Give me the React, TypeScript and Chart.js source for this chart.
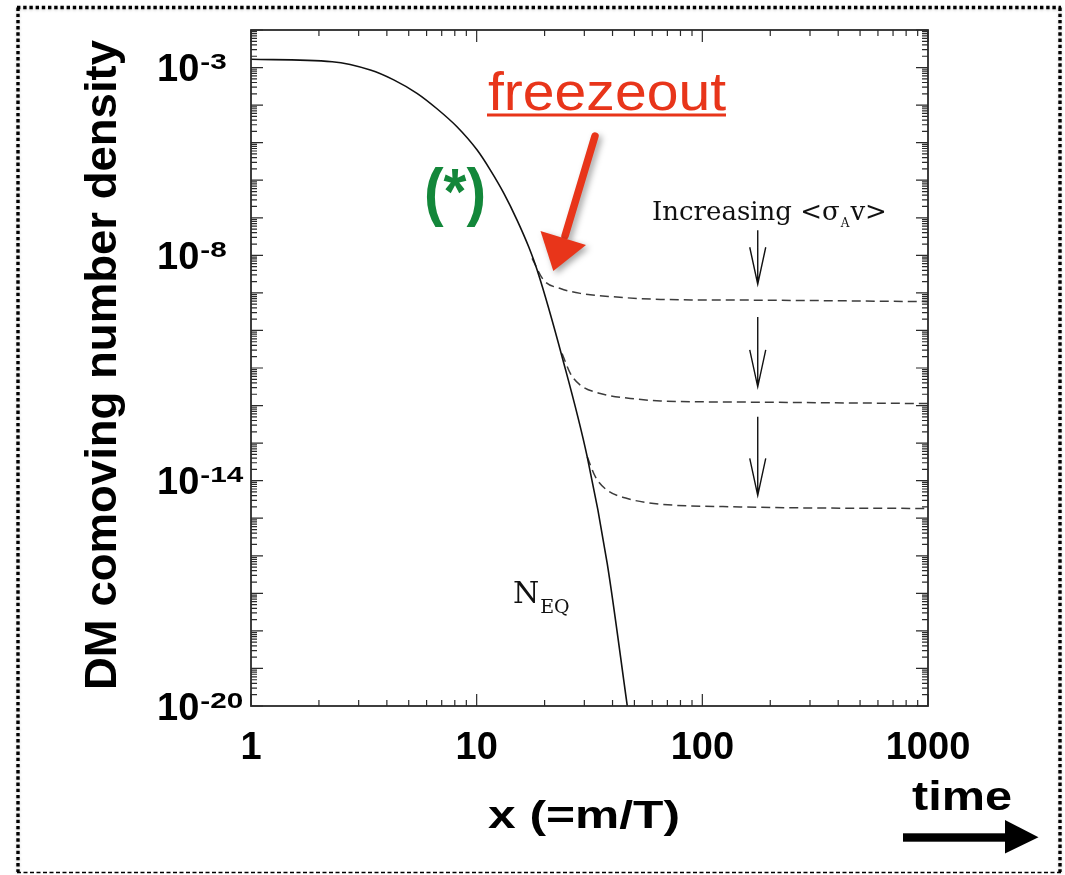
import React, { useEffect, useRef } from 'react';
import { Chart, registerables } from 'chart.js';

Chart.register(...registerables);

// ---------- data ----------
const xTickValues = [1, 10, 100, 1000];
const yLabelExponents = [-3, -8, -14, -20];

// equilibrium abundance N_EQ (solid)
const eqX = [1, 2.29, 3.38, 4.29, 5.44, 6.67, 8.18, 10.05, 11.5, 13.2, 15.1, 17.0, 18.55, 23.9, 30.9, 37.9, 46.5];
const eqY = [1.66e-3, 1.43e-3, 8.6e-4, 4.7e-4, 2.06e-4, 8.0e-5, 2.65e-5, 6.35e-6, 1.86e-6, 4.47e-7, 8.7e-8, 1.69e-8, 4.0e-9, 2.0e-11, 4.3e-14, 6.2e-17, 1e-20];

// relic abundance curves (dashed), increasing <sigma v>
const relic1X = [17.6, 19.8, 23.5, 28.8, 40.5, 65.3, 176, 1000];
const relic1Y = [8.3e-9, 2.19e-9, 1.31e-9, 9.7e-10, 7.85e-10, 6.7e-10, 6.4e-10, 5.85e-10];
const relic2X = [23.9, 26.0, 28.8, 35.3, 48.0, 65.3, 176, 1000];
const relic2Y = [2.44e-11, 7.2e-12, 3.5e-12, 2.1e-12, 1.55e-12, 1.33e-12, 1.23e-12, 1.13e-12];
const relic3X = [30.9, 33.6, 37.8, 46.5, 60.9, 147, 1000];
const relic3Y = [4.3e-14, 1.26e-14, 5.6e-15, 3.35e-15, 2.47e-15, 2.0e-15, 1.81e-15];

// annotation arrows "Increasing <sigma_A v>": x value, [start exponent, tip exponent]
const sigmaArrowX = 176;
const sigmaArrows = [
  [-7.33, -8.77],
  [-9.64, -11.5],
  [-12.3, -14.39],
];

const SANS = '"Liberation Sans", Arial, Helvetica, sans-serif';
const SERIF = '"DejaVu Serif", "Liberation Serif", serif';

const toPts = (xs: number[], ys: number[]) => xs.map((x, i) => ({ x, y: ys[i] }));

function drawStretched(ctx: CanvasRenderingContext2D, text: string, x: number, y: number, font: string, width: number, color: string) {
  ctx.save();
  ctx.font = font;
  ctx.fillStyle = color;
  ctx.textAlign = 'left';
  ctx.textBaseline = 'alphabetic';
  const w = ctx.measureText(text).width;
  ctx.translate(x, y);
  ctx.scale(width / w, 1);
  ctx.fillText(text, 0, 0);
  ctx.restore();
}

const framePlugin = {
  id: 'frameTicks',
  afterDatasetsDraw(chart: any) {
    const { ctx, chartArea: a, scales } = chart;
    const xs = scales.x;
    const ys = scales.y;
    ctx.save();
    ctx.strokeStyle = '#2a2a2a';
    ctx.lineWidth = 1.2;
    ctx.beginPath();
    for (let e = 0; e <= 3; e++) {
      for (let m = 1; m <= 9; m++) {
        const v = m * Math.pow(10, e);
        if (v > 1000 * 1.0001) break;
        const px = xs.getPixelForValue(v);
        const len = m === 1 ? 12 : 6;
        ctx.moveTo(px, a.bottom);
        ctx.lineTo(px, a.bottom - len);
        ctx.moveTo(px, a.top);
        ctx.lineTo(px, a.top + len);
      }
    }
    for (let e = -20; e <= -2; e++) {
      for (let m = 1; m <= 9; m++) {
        const v = m * Math.pow(10, e);
        if (v > 1e-2 * 1.0001) break;
        const py = ys.getPixelForValue(v);
        const len = m === 1 ? 12 : 6;
        ctx.moveTo(a.left, py);
        ctx.lineTo(a.left + len, py);
        ctx.moveTo(a.right, py);
        ctx.lineTo(a.right - len, py);
      }
    }
    ctx.stroke();
    ctx.lineWidth = 1.8;
    ctx.strokeRect(a.left, a.top, a.right - a.left, a.bottom - a.top);
    ctx.restore();
  },
};

const annotationPlugin = {
  id: 'annotations',
  afterDraw(chart: any) {
    const { ctx, scales } = chart;
    const xs = scales.x;
    const ys = scales.y;
    ctx.save();

    // slide frame (dotted)
    ctx.strokeStyle = '#000';
    ctx.save();
    ctx.shadowColor = 'rgba(0,0,0,0.2)';
    ctx.shadowBlur = 3;
    ctx.shadowOffsetY = 1;
    ctx.lineWidth = 3.4;
    ctx.setLineDash([3.4, 2.8]);
    ctx.beginPath();
    ctx.moveTo(17, 7.5);
    ctx.lineTo(1061, 7.5);
    ctx.moveTo(18, 7.5);
    ctx.lineTo(18, 872);
    ctx.moveTo(1060, 7.5);
    ctx.lineTo(1060, 872);
    ctx.stroke();
    ctx.restore();
    ctx.save();
    ctx.lineWidth = 1.5;
    ctx.setLineDash([4, 2.5]);
    ctx.beginPath();
    ctx.moveTo(17, 872.5);
    ctx.lineTo(1061, 872.5);
    ctx.stroke();
    ctx.restore();

    // y tick labels 10^n
    for (const e of yLabelExponents) {
      const py = ys.getPixelForValue(Math.pow(10, e));
      ctx.fillStyle = '#000';
      ctx.textAlign = 'left';
      ctx.textBaseline = 'alphabetic';
      ctx.font = `bold 38px ${SANS}`;
      const base = '10';
      ctx.fillText(base, 157, py + 13.6);
      const w = ctx.measureText(base).width;
      ctx.save();
      ctx.font = `bold 22px ${SANS}`;
      ctx.translate(157 + w + 1, py + 1.8);
      ctx.scale(1.35, 1);
      ctx.fillText(String(e), 0, 0);
      ctx.restore();
    }

    // y axis title (rotated)
    ctx.save();
    ctx.font = `bold 44px ${SANS}`;
    const yTitle = 'DM comoving number density';
    const yw = ctx.measureText(yTitle).width;
    ctx.translate(116, 365);
    ctx.rotate(-Math.PI / 2);
    ctx.scale(650 / yw, 1);
    ctx.textAlign = 'center';
    ctx.fillStyle = '#000';
    ctx.fillText(yTitle, 0, 0);
    ctx.restore();

    // x axis title
    drawStretched(ctx, 'x (=m/T)', 488, 828, `bold 38px ${SANS}`, 192, '#000');

    // "time" with arrow
    drawStretched(ctx, 'time', 912, 810, `bold 40px ${SANS}`, 100, '#000');
    ctx.fillStyle = '#000';
    ctx.fillRect(903, 833.3, 104, 8.4);
    ctx.beginPath();
    ctx.moveTo(1005, 820);
    ctx.lineTo(1038.5, 837.2);
    ctx.lineTo(1005, 853.5);
    ctx.closePath();
    ctx.fill();

    // freezeout (red, underlined)
    const red = '#e8351a';
    drawStretched(ctx, 'freezeout', 488, 110, `53px ${SANS}`, 238, red);
    ctx.fillStyle = red;
    ctx.fillRect(487, 113.5, 239, 3);

    // red arrow with shadow
    ctx.save();
    ctx.shadowColor = 'rgba(0,0,0,0.35)';
    ctx.shadowBlur = 6;
    ctx.shadowOffsetX = 3;
    ctx.shadowOffsetY = 3;
    ctx.strokeStyle = red;
    ctx.fillStyle = red;
    ctx.lineWidth = 7.5;
    ctx.lineCap = 'round';
    ctx.beginPath();
    ctx.moveTo(595, 136);
    ctx.lineTo(565, 236);
    ctx.stroke();
    ctx.beginPath();
    ctx.moveTo(540.5, 231);
    ctx.lineTo(586, 245);
    ctx.lineTo(553.3, 271);
    ctx.closePath();
    ctx.fill();
    ctx.restore();

    // (*) green
    ctx.save();
    ctx.fillStyle = '#13873a';
    ctx.font = `bold 64px ${SANS}`;
    ctx.textAlign = 'left';
    ctx.textBaseline = 'alphabetic';
    ctx.translate(424, 214);
    ctx.scale(0.92, 1);
    ctx.fillText('(*)', 0, 0);
    ctx.restore();

    // Increasing <sigma_A v>
    ctx.fillStyle = '#111';
    ctx.font = `26px ${SERIF}`;
    let tx = 652;
    const t1 = 'Increasing <σ';
    ctx.fillText(t1, tx, 220);
    tx += ctx.measureText(t1).width + 1;
    ctx.font = `12px ${SERIF}`;
    ctx.fillText('A', tx, 227);
    tx += ctx.measureText('A').width + 1;
    ctx.font = `26px ${SERIF}`;
    ctx.fillText('v>', tx, 220);

    // arrows
    ctx.strokeStyle = '#111';
    ctx.lineWidth = 1.4;
    const ax = xs.getPixelForValue(sigmaArrowX);
    for (const [s, t] of sigmaArrows) {
      const y0 = ys.getPixelForValue(Math.pow(10, s));
      const y1 = ys.getPixelForValue(Math.pow(10, t));
      ctx.beginPath();
      ctx.moveTo(ax, y0);
      ctx.lineTo(ax, y1);
      ctx.moveTo(ax - 8, y1 - 37);
      ctx.lineTo(ax, y1);
      ctx.lineTo(ax + 8, y1 - 37);
      ctx.stroke();
    }

    // N_EQ
    ctx.fillStyle = '#111';
    ctx.font = `30px ${SERIF}`;
    ctx.fillText('N', 513, 603);
    const nw = ctx.measureText('N').width;
    ctx.font = `19px ${SERIF}`;
    ctx.fillText('EQ', 513 + nw + 1, 613);

    ctx.restore();
  },
};

export default function App() {
  const ref = useRef<HTMLCanvasElement>(null);
  useEffect(() => {
    const canvas = ref.current;
    if (!canvas) return;
    const dashed = {
      borderColor: '#3c3c3c',
      borderWidth: 1.5,
      borderDash: [9, 5],
      pointRadius: 0,
      fill: false,
      cubicInterpolationMode: 'monotone' as const,
    };
    const chart = new Chart(canvas, {
      type: 'line',
      data: {
        datasets: [
          {
            label: 'N_EQ',
            data: toPts(eqX, eqY),
            borderColor: '#111',
            borderWidth: 1.6,
            pointRadius: 0,
            fill: false,
            cubicInterpolationMode: 'monotone',
          },
          { label: 'relic 1', data: toPts(relic1X, relic1Y), ...dashed },
          { label: 'relic 2', data: toPts(relic2X, relic2Y), ...dashed },
          { label: 'relic 3', data: toPts(relic3X, relic3Y), ...dashed },
        ],
      },
      options: {
        responsive: false,
        animation: false,
        events: [],
        layout: { padding: { left: 251, top: 30, right: 137, bottom: 99 } },
        plugins: { legend: { display: false }, tooltip: { enabled: false } },
        scales: {
          x: {
            type: 'logarithmic',
            min: 1,
            max: 1000,
            grid: { display: false, drawTicks: false },
            border: { display: false },
            afterBuildTicks: (s: any) => {
              s.ticks = xTickValues.map((v) => ({ value: v }));
            },
            afterFit: (s: any) => {
              s.height = 70;
            },
            ticks: {
              autoSkip: false,
              maxRotation: 0,
              padding: 20,
              color: '#000',
              font: { family: SANS, size: 38, weight: 'bold' },
              callback: (v: any) => String(v),
            },
          },
          y: {
            type: 'logarithmic',
            min: 1e-20,
            max: 1e-2,
            display: false,
          },
        },
      } as any,
      plugins: [framePlugin, annotationPlugin],
    });
    return () => chart.destroy();
  }, []);
  return (
    <canvas
      ref={ref}
      width={1065}
      height={875}
      style={{ position: 'absolute', left: 0, top: 0, display: 'block' }}
    />
  );
}
